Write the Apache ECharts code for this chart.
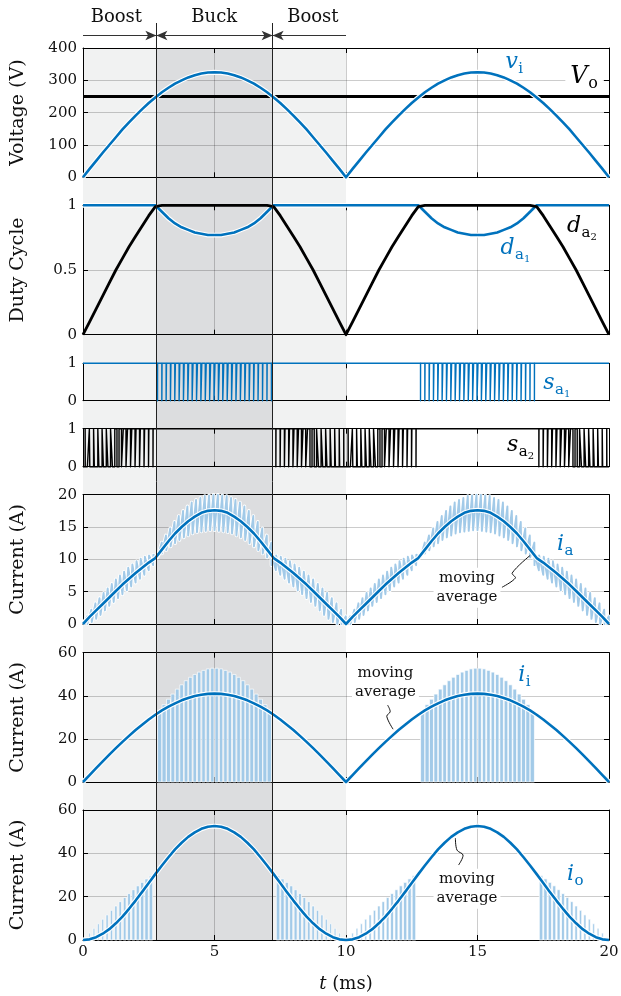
<!DOCTYPE html>
<html><head><meta charset="utf-8"><title>Boost-buck waveforms</title>
<script src="https://cdn.jsdelivr.net/npm/echarts@6/dist/echarts.min.js"></script>
<style>html,body{margin:0;padding:0;background:#fff;}#chart{width:621px;height:996px;}</style>
</head><body><div id="chart"></div>
<script>
// ================= DATA =================
const _ = null;
const timeRange = [0, 20];               // ms
const xTicks = [0, 5, 10, 15, 20];
const halfCycleStarts = [0, 10];         // the waveforms repeat every 10 ms
const sampleStep = 0.25;                 // ms between samples of the smooth curves
const switchPeriod = 1 / 6;              // ms, one entry per period in the per-period arrays
const modeEdges = [2.79, 7.21];          // boost | buck | boost (ms)
const modeNames = ['Boost', 'Buck', 'Boost'];
const outputVoltage = 250;               // V_o

const voltTicks = [0, 100, 200, 300, 400];
const dutyTicks = [0, 0.5, 1];
const switchTicks = [0, 1];
const iaTicks = [0, 5, 10, 15, 20];
const iiTicks = [0, 20, 40, 60];
const ioTicks = [0, 20, 40, 60];

// smooth curves, one half cycle (0..10 ms, every 0.25 ms)
const viHalf = [0,26,51,76,100,124,148,170,191,211,230,247,263,277,290,300,309,316,321,324,325,
                324,321,316,309,300,290,277,263,247,230,211,191,170,148,124,100,76,51,26,0];
const da1Half = [1,1,1,1,1,1,1,1,1,1,1,1,
                 .95,.90,.86,.83,.81,.79,.78,.77,.77,.77,.78,.79,.81,.83,.86,.90,.95,
                 1,1,1,1,1,1,1,1,1,1,1,1];
const da2Half = [0,.10,.20,.30,.40,.50,.59,.68,.76,.84,.92,.99,
                 1,1,1,1,1,1,1,1,1,1,1,1,1,1,1,1,1,
                 .99,.92,.84,.76,.68,.59,.50,.40,.30,.20,.10,0];
const iaAvgHalf = [0,1.1,2.1,3.1,4.1,5.1,6.1,7.0,7.9,8.7,9.5,10.2,11.5,12.8,14.0,15.0,15.9,16.6,17.2,17.5,17.6,
                   17.5,17.2,16.6,15.9,15.0,14.0,12.8,11.5,10.2,9.5,8.7,7.9,7.0,6.1,5.1,4.1,3.1,2.1,1.1,0];
const iiAvgHalf = [0,3.2,6.4,9.6,12.7,15.7,18.6,21.4,24.1,26.6,29.0,31.2,33.2,35.0,36.5,37.9,39.0,39.9,40.5,40.9,41.0,
                   40.9,40.5,39.9,39.0,37.9,36.5,35.0,33.2,31.2,29.0,26.6,24.1,21.4,18.6,15.7,12.7,9.6,6.4,3.2,0];
const ioAvgHalf = [0,0.3,1.3,2.9,5.0,7.7,10.8,14.4,18.2,22.2,26.3,30.4,34.4,38.2,41.8,44.9,47.6,49.7,51.3,52.3,52.6,
                   52.3,51.3,49.7,47.6,44.9,41.8,38.2,34.4,30.4,26.3,22.2,18.2,14.4,10.8,7.7,5.0,2.9,1.3,0.3,0];

// per switching period, one half cycle (60 periods)
const dA1 = [1,1,1,1,1,1,1,1,1,1,1,1,1,1,1,1,1,
             .97,.93,.90,.87,.85,.83,.82,.80,.79,.78,.78,.77,.77,
             .77,.77,.78,.78,.79,.80,.82,.83,.85,.87,.90,.93,.97,
             1,1,1,1,1,1,1,1,1,1,1,1,1,1,1,1,1];
const dA2 = [.03,.10,.17,.24,.30,.37,.43,.50,.56,.62,.68,.74,.79,.84,.89,.94,1,
             1,1,1,1,1,1,1,1,1,1,1,1,1,
             1,1,1,1,1,1,1,1,1,1,1,1,1,
             1,.94,.89,.84,.79,.74,.68,.62,.56,.50,.43,.37,.30,.24,.17,.10,.03];
const iaHi = [1.2,2.2,3.2,4.0,4.8,5.5,6.2,6.9,7.5,8.1,8.7,9.2,9.7,10.1,10.4,10.6,10.7,
              12.6,13.7,14.8,15.8,16.7,17.5,18.2,18.8,19.2,19.5,19.8,19.9,20.0,
              20.0,19.9,19.8,19.5,19.2,18.8,18.2,17.5,16.7,15.8,14.8,13.7,12.6,
              10.7,10.6,10.4,10.1,9.7,9.2,8.7,8.1,7.5,6.9,6.2,5.5,4.8,4.0,3.2,2.2,1.2];
const iaLo = [0,0,0.3,0.8,1.4,2.1,2.8,3.4,4.0,4.6,5.2,5.8,6.4,7.0,7.6,8.3,9.1,
              10.3,10.9,11.4,12.0,12.5,13.0,13.4,13.7,14.0,14.2,14.3,14.4,14.5,
              14.5,14.4,14.3,14.2,14.0,13.7,13.4,13.0,12.5,12.0,11.4,10.9,10.3,
              9.1,8.3,7.6,7.0,6.4,5.8,5.2,4.6,4.0,3.4,2.8,2.1,1.4,0.8,0.3,0,0];
const iiTop = [_,_,_,_,_,_,_,_,_,_,_,_,_,_,_,_,_,
               33.2,35.9,38.4,40.8,43.1,45.1,47.0,48.6,49.9,51.0,51.8,52.5,52.8,
               52.8,52.5,51.8,51.0,49.9,48.6,47.0,45.1,43.1,40.8,38.4,35.9,33.2,
               _,_,_,_,_,_,_,_,_,_,_,_,_,_,_,_,_];
const ioTop = [1.1,3.2,5.4,7.5,9.6,11.6,13.7,15.7,17.7,19.6,21.4,23.2,25.0,26.6,28.2,29.7,_,
               _,_,_,_,_,_,_,_,_,_,_,_,_,
               _,_,_,_,_,_,_,_,_,_,_,_,_,
               _,29.7,28.2,26.6,25.0,23.2,21.4,19.6,17.7,15.7,13.7,11.6,9.6,7.5,5.4,3.2,1.1];
const ioOnFrac = [.34,.38,.41,.44,.47,.51,.54,.56,.60,.62,.66,.68,.71,.74,.77,.80,_,
                  _,_,_,_,_,_,_,_,_,_,_,_,_,
                  _,_,_,_,_,_,_,_,_,_,_,_,_,
                  _,.80,.77,.74,.71,.68,.66,.62,.60,.56,.54,.51,.47,.44,.41,.38,.34];

// ================= STYLE / LAYOUT =================
const FONTNAME = 'DejaVu Serif';
const BLUE = '#0072bd', LIGHT = '#a2cae8', INK = '#111', GRIDC = 'rgba(0,0,0,0.2)';
const BAND_LIGHT = '#f1f2f2', BAND_DARK = '#dcdddf';
const L = 83, R = 12;
const panelTop = [48, 205.3, 363.3, 428.7, 494.7, 652.7, 810];
const panelH = [129.3, 129.4, 37.4, 38, 129.3, 129.3, 130];
const tickSets = [voltTicks, dutyTicks, switchTicks, switchTicks, iaTicks, iiTicks, ioTicks];
const yNames = ['Voltage (V)', 'Duty Cycle', '', '', 'Current (A)', 'Current (A)', 'Current (A)'];
const NP = 7;
const AX_BAND = 2 * NP, AX_LINES = 2 * NP + 1, AX_HDR = 2 * NP + 2;

const grid = [];
for (let i = 0; i < NP; i++) grid.push({left: L, right: R, top: panelTop[i], height: panelH[i], outerBoundsMode: 'none'});
grid.push({left: L, right: R, top: 48, height: 892, outerBoundsMode: 'none'});   // bands
grid.push({left: L, right: R, top: 23, height: 917, outerBoundsMode: 'none'});   // boundary lines
grid.push({left: L, right: R, top: 23, height: 25, outerBoundsMode: 'none'});    // header arrows

const tickStyle = {show: true, inside: true, length: 5, lineStyle: {color: '#000', width: 1}};
const axLine = {show: true, onZero: false, lineStyle: {color: '#000', width: 1}};
const labelFont = {fontFamily: FONTNAME, fontSize: 15, color: INK};
const xInterval = xTicks[1] - xTicks[0];

const xAxis = [], yAxis = [];
for (let i = 0; i < NP; i++) xAxis.push({
  gridIndex: i, type: 'value', position: 'bottom', min: timeRange[0], max: timeRange[1], interval: xInterval,
  axisLine: axLine, axisTick: tickStyle,
  axisLabel: Object.assign({show: i === NP - 1, margin: 5}, labelFont),
  splitLine: {show: true, lineStyle: {color: GRIDC, width: 1}},
  name: i === NP - 1 ? '{it|t} (ms)' : '', nameLocation: 'middle', nameGap: 35, nameMoveOverlap: false,
  nameTextStyle: {fontFamily: FONTNAME, fontSize: 18, color: INK,
    rich: {it: {fontFamily: FONTNAME, fontStyle: 'italic', fontSize: 18, color: INK}}}
});
for (let i = 0; i < NP; i++) xAxis.push({
  gridIndex: i, type: 'value', position: 'top', min: timeRange[0], max: timeRange[1], interval: xInterval,
  axisLine: axLine, axisTick: tickStyle, axisLabel: {show: false}, splitLine: {show: false}
});
[NP, NP + 1, NP + 2].forEach(g => xAxis.push({gridIndex: g, type: 'value', min: timeRange[0], max: timeRange[1], show: false}));

for (let i = 0; i < NP; i++) {
  const tk = tickSets[i];
  yAxis.push({
    gridIndex: i, type: 'value', position: 'left', min: tk[0], max: tk[tk.length - 1], interval: tk[1] - tk[0],
    axisLine: axLine, axisTick: tickStyle, axisLabel: Object.assign({margin: 6}, labelFont),
    splitLine: {show: true, lineStyle: {color: GRIDC, width: 1}},
    name: yNames[i], nameLocation: 'middle', nameGap: 55, nameRotate: 90, nameMoveOverlap: false,
    nameTextStyle: {fontFamily: FONTNAME, fontSize: 19, color: INK}
  });
}
for (let i = 0; i < NP; i++) {
  const tk = tickSets[i];
  yAxis.push({
    gridIndex: i, type: 'value', position: 'right', min: tk[0], max: tk[tk.length - 1], interval: tk[1] - tk[0],
    axisLine: axLine, axisTick: tickStyle, axisLabel: {show: false}, splitLine: {show: false}
  });
}
[NP, NP + 1, NP + 2].forEach(g => yAxis.push({gridIndex: g, type: 'value', min: 0, max: 1, show: false}));

// ================= BUILD SERIES DATA FROM THE ARRAYS =================
function fullCurve(half) {
  const out = [];
  halfCycleStarts.forEach((h, j) => half.forEach((v, i) => { if (j > 0 && i === 0) return; out.push([h + i * sampleStep, v]); }));
  return out;
}
function pwm(duty) {       // switching signal: on for duty*T, centred in each period
  const pts = [];
  halfCycleStarts.forEach(h => duty.forEach((d, k) => {
    const t0 = h + k * switchPeriod, t1 = t0 + switchPeriod;
    if (d >= 1) { pts.push([t0, 1], [t1, 1]); return; }
    const g = (1 - d) * switchPeriod / 2;
    pts.push([t0, 0], [t0 + g, 0], [t0 + g, 1], [t1 - g, 1], [t1 - g, 0], [t1, 0]);
  }));
  return pts;
}
function pulses(onFrac, tops) {   // [start, end, height] of each conduction pulse
  const segs = [];
  halfCycleStarts.forEach(h => tops.forEach((top, k) => {
    if (top == null) return;
    const t0 = h + k * switchPeriod, t1 = t0 + switchPeriod, g = (1 - onFrac[k]) * switchPeriod / 2;
    segs.push([t0 + g, t1 - g, top]);
  }));
  return segs;
}
function ripple() {               // inductor current: valley at each period start, peak inside
  const pts = [];
  halfCycleStarts.forEach(h => iaLo.forEach((lo, k) => {
    const t0 = h + k * switchPeriod;
    const frac = dA1[k] < 1 ? dA1[k] : Math.max(0.05, 1 - dA2[k]);
    pts.push([t0, lo], [t0 + frac * switchPeriod, iaHi[k]]);
  }));
  pts.push([timeRange[1], iaLo[0]]);
  return pts;
}

function line(g, data, color, width, extra) {
  return Object.assign({type: 'line', xAxisIndex: g, yAxisIndex: g, data: data, symbol: 'none', showSymbol: false,
    silent: true, clip: false, animation: false, lineStyle: {color: color, width: width, cap: 'butt', join: 'round'}}, extra || {});
}
function pulseSeries(g, segs) {
  return {type: 'custom', xAxisIndex: g, yAxisIndex: g, data: segs, encode: {x: [0, 1], y: 2}, silent: true, animation: false,
    renderItem: (params, api) => {
      const a = api.coord([api.value(0), api.value(2)]);
      const b = api.coord([api.value(1), 0]);
      return {type: 'rect', shape: {x: a[0], y: a[1], width: b[0] - a[0], height: b[1] - a[1]},
        style: {fill: LIGHT, stroke: '#fff', lineWidth: 0.7}};
    }};
}

const viData = fullCurve(viHalf), da1Data = fullCurve(da1Half), da2Data = fullCurve(da2Half);
const iaAvg = fullCurve(iaAvgHalf), iiAvg = fullCurve(iiAvgHalf), ioAvg = fullCurve(ioAvgHalf);
const rip = ripple();

const series = [];
// background bands
series.push({type: 'line', xAxisIndex: AX_BAND, yAxisIndex: AX_BAND, data: [], silent: true,
  markArea: {silent: true, z: -1, animation: false, label: {show: false}, data: [
    [{xAxis: halfCycleStarts[0], itemStyle: {color: BAND_LIGHT}}, {xAxis: halfCycleStarts[1]}],
    [{xAxis: modeEdges[0], itemStyle: {color: BAND_DARK}}, {xAxis: modeEdges[1]}]
  ]}});
// mode boundaries
series.push({type: 'line', xAxisIndex: AX_LINES, yAxisIndex: AX_LINES, data: [], silent: true,
  markLine: {silent: true, animation: false, symbol: ['none', 'none'], label: {show: false},
    lineStyle: {color: '#222', width: 1, type: 'solid'}, data: modeEdges.map(e => ({xAxis: e}))}});
// header arrows
series.push({type: 'line', xAxisIndex: AX_HDR, yAxisIndex: AX_HDR, data: [], silent: true,
  markLine: {silent: true, animation: false, symbolSize: [7, 11], label: {show: false},
    lineStyle: {color: '#333', width: 1, type: 'solid'}, data: [
      [{coord: [halfCycleStarts[0], 0.5], symbol: 'none'}, {coord: [modeEdges[0], 0.5], symbol: 'arrow'}],
      [{coord: [modeEdges[0], 0.5], symbol: 'arrow'}, {coord: [modeEdges[1], 0.5], symbol: 'arrow'}],
      [{coord: [halfCycleStarts[1], 0.5], symbol: 'none'}, {coord: [modeEdges[1], 0.5], symbol: 'arrow'}]
    ]}});

// panel 1
series.push(line(0, [[timeRange[0], outputVoltage], [timeRange[1], outputVoltage]], '#000', 3));
series.push(line(0, viData, '#fff', 4.8));
series.push(line(0, viData, BLUE, 2.6));
// panel 2
series.push(line(1, da1Data, '#fff', 4.8));
series.push(line(1, da1Data, BLUE, 2.6));
series.push(line(1, da2Data, '#000', 2.8));
// panels 3, 4
series.push(line(2, pwm(dA1), BLUE, 1.4));
series.push(line(3, pwm(dA2), '#000', 1.4));
// panel 5
series.push(line(4, rip, '#fff', 3.6, {clip: true}));
series.push(line(4, rip, LIGHT, 1.9, {clip: true}));
series.push(line(4, iaAvg, '#fff', 4.8));
series.push(line(4, iaAvg, BLUE, 2.6));
// panel 6
series.push(pulseSeries(5, pulses(dA1, iiTop)));
series.push(line(5, iiAvg, '#fff', 4.8));
series.push(line(5, iiAvg, BLUE, 2.6));
// panel 7
series.push(pulseSeries(6, pulses(ioOnFrac, ioTop)));
series.push(line(6, ioAvg, '#fff', 4.8));
series.push(line(6, ioAvg, BLUE, 2.6));

const chart = echarts.init(document.getElementById('chart'), null, {renderer: 'canvas', width: 621, height: 996});
chart.setOption({animation: false, grid: grid, xAxis: xAxis, yAxis: yAxis, series: series});

// ================= ANNOTATIONS =================
function P(axisIdx, t, v) { return chart.convertToPixel({xAxisIndex: axisIdx, yAxisIndex: axisIdx}, [t, v]); }
const ctx = document.createElement('canvas').getContext('2d');
function tw(font, s) { ctx.font = font; return ctx.measureText(s).width; }

const elements = [];
function mathLabel(spec) {
  const [x, y] = P(spec.g, spec.t, spec.v);
  const size = spec.size || 22;
  const fMain = 'italic ' + size + 'px "' + FONTNAME + '"';
  const fSub = (spec.subSize || 15) + 'px "' + FONTNAME + '"';
  const fSS = '10px "' + FONTNAME + '"';
  const xs = x + tw(fMain, spec.main) + 0.5;
  let xe = xs + tw(fSub, spec.sub);
  const els = [];
  els.push({type: 'text', x: x, y: y, z: 100, style: {text: spec.main, font: fMain, fill: spec.color, align: 'left', verticalAlign: 'middle'}});
  els.push({type: 'text', x: xs, y: y + 7, z: 100, style: {text: spec.sub, font: fSub, fill: spec.color, align: 'left', verticalAlign: 'middle'}});
  if (spec.subsub) {
    els.push({type: 'text', x: xe, y: y + 11, z: 100, style: {text: spec.subsub, font: fSS, fill: spec.color, align: 'left', verticalAlign: 'middle'}});
    xe += tw(fSS, spec.subsub);
  }
  if (spec.bg) elements.push({type: 'rect', z: 99, shape: {x: x - 5, y: y - 13, width: xe - x + 10, height: 28}, style: {fill: '#fff'}});
  elements.push(...els);
}
[
  {g: 0, t: 16.06, v: 355, color: BLUE, main: 'v', sub: 'i'},
  {g: 0, t: 18.53, v: 310, color: '#000', main: 'V', sub: 'o', size: 24, subSize: 16, bg: true},
  {g: 1, t: 18.4, v: 0.84, color: '#000', main: 'd', sub: 'a', subsub: '2'},
  {g: 1, t: 15.87, v: 0.667, color: BLUE, main: 'd', sub: 'a', subsub: '1'},
  {g: 2, t: 17.5, v: 0.46, color: BLUE, main: 's', sub: 'a', subsub: '1'},
  {g: 3, t: 16.12, v: 0.57, color: '#000', main: 's', sub: 'a', subsub: '2'},
  {g: 4, t: 18.02, v: 12.4, color: BLUE, main: 'i', sub: 'a'},
  {g: 5, t: 16.55, v: 49.7, color: BLUE, main: 'i', sub: 'i'},
  {g: 6, t: 18.4, v: 30.5, color: BLUE, main: 'i', sub: 'o'}
].forEach(mathLabel);

// "moving average" notes with their leader squiggles
[
  {g: 4, at: [14.6, 5.6], path: [[15.93, 5.68], [16.44, 7.11], [16.32, 7.89], [17.0, 10.6]]},
  {g: 5, at: [11.5, 46], path: [[11.58, 35.7], [11.68, 32.6], [11.55, 30.5], [11.79, 24.5]]},
  {g: 6, at: [14.6, 23.7], path: [[14.28, 34.6], [14.45, 39.2], [14.22, 41.5], [14.16, 47]]}
].forEach(n => {
  const [x, y] = P(n.g, n.at[0], n.at[1]);
  elements.push({type: 'text', x: x, y: y, z: 100, style: {text: 'moving\naverage', font: '15px "' + FONTNAME + '"',
    fill: INK, align: 'center', verticalAlign: 'middle', lineHeight: 19, backgroundColor: '#fff', padding: [1, 3]}});
  elements.push({type: 'polyline', z: 100, shape: {points: n.path.map(p => P(n.g, p[0], p[1])), smooth: 0.35},
    style: {stroke: INK, lineWidth: 1, fill: null}});
});

// header labels
const modeCentres = [1.27, 4.99, 8.74];
modeNames.forEach((name, i) => {
  const [x, y] = P(AX_HDR, modeCentres[i], 1.24);
  elements.push({type: 'text', x: x, y: y, z: 100, style: {text: name, font: '18px "' + FONTNAME + '"', fill: INK, align: 'center', verticalAlign: 'middle'}});
});

chart.setOption({graphic: {elements: elements}});
</script></body></html>
